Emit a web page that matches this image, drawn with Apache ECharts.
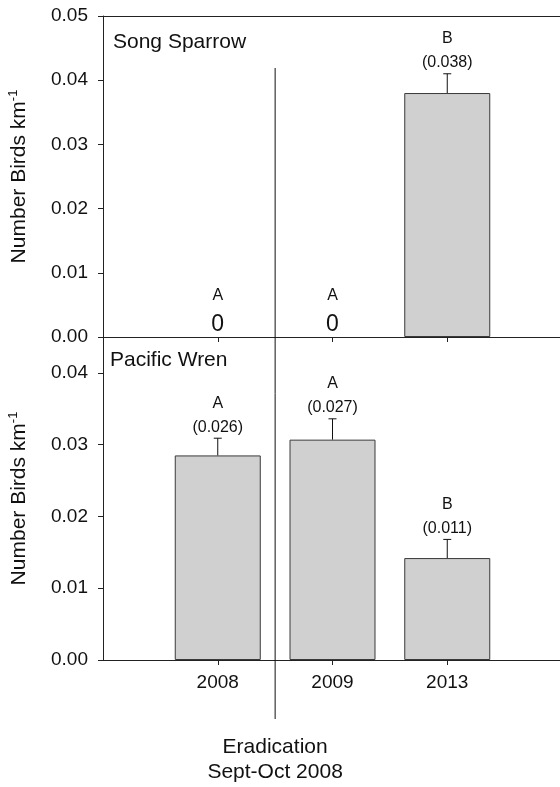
<!DOCTYPE html>
<html>
<head>
<meta charset="utf-8">
<script src="https://cdn.jsdelivr.net/npm/echarts@6/dist/echarts.min.js"></script>
<style>
  html, body { margin: 0; background: #fff; }
  #chart { width: 560px; height: 787px; }
</style>
</head>
<body>
<div id="chart"></div>
<script>
// data
const years = ["2008", "2009", "2013"];
const sparrowMeans = [0, 0, 0.038];
const sparrowUpper = [0, 0, 0.041];
const sparrowLetters = ["A", "A", "B"];
const sparrowLabels = ["0", "0", "(0.038)"];
const wrenMeans = [0.0285, 0.0307, 0.0142];
const wrenUpper = [0.0309, 0.0336, 0.0168];
const wrenLetters = ["A", "A", "B"];
const wrenLabels = ["(0.026)", "(0.027)", "(0.011)"];
const sparrowYMax = 0.05;
const wrenYMax = 0.045;

const FONT = "Liberation Sans, Arial, Helvetica, sans-serif";
const left = 103, width = 459;
const band = width / 4;

// padded categories so the axis runs a half band past the years
const cats = ["", ...years, ""];
const pad = (arr) => ["-", ...arr.map((v) => (v === 0 ? "-" : v)), "-"];

const chart = echarts.init(document.getElementById("chart"));

function errRender(means, upper, letters, labels) {
  return function (params, api) {
    const i = params.dataIndex;
    const idx = i + 1;
    const base = api.coord([idx, means[i]]);
    const top = api.coord([idx, upper[i]]);
    const kids = [];
    const ink = "#111";
    if (means[i] === 0) {
      kids.push({
        type: "text",
        style: { text: labels[i], x: base[0], y: base[1] - 12, align: "center", verticalAlign: "middle", font: "23px " + FONT, fill: ink },
      });
      kids.push({
        type: "text",
        style: { text: letters[i], x: base[0], y: base[1] - 41, align: "center", verticalAlign: "middle", font: "16px " + FONT, fill: ink },
      });
    } else {
      kids.push({ type: "line", shape: { x1: top[0], y1: base[1], x2: top[0], y2: top[1] }, style: { stroke: ink, lineWidth: 1 } });
      kids.push({ type: "line", shape: { x1: top[0] - 4, y1: top[1], x2: top[0] + 4, y2: top[1] }, style: { stroke: ink, lineWidth: 1 } });
      kids.push({
        type: "text",
        style: { text: labels[i], x: top[0], y: top[1] - 11, align: "center", verticalAlign: "middle", font: "16px " + FONT, fill: ink },
      });
      kids.push({
        type: "text",
        style: { text: letters[i], x: top[0], y: top[1] - 35, align: "center", verticalAlign: "middle", font: "16px " + FONT, fill: ink },
      });
    }
    return { type: "group", children: kids };
  };
}

const axisLine = { show: true, lineStyle: { color: "#222", width: 1 } };
const yName = "{a|Number Birds km}{s|-1}";
const yNameStyle = {
  rich: {
    a: { fontSize: 21, fontFamily: FONT, color: "#111", lineHeight: 24 },
    s: { fontSize: 13, fontFamily: FONT, color: "#111", verticalAlign: "top", lineHeight: 24 },
  },
};

const xBase = {
  type: "category",
  data: cats,
  boundaryGap: false,
  axisLine: axisLine,
  axisTick: { show: true, length: 5, interval: (i, v) => v !== "", lineStyle: { color: "#222" } },
  splitLine: { show: false },
};

chart.setOption({
  animation: false,
  grid: [
    { left: left, width: width, top: 16, height: 321, outerBoundsMode: "none" },
    { left: left, width: width, top: 337, height: 323, outerBoundsMode: "none" },
  ],
  xAxis: [
    Object.assign({}, xBase, { gridIndex: 0, axisLabel: { show: false } }),
    Object.assign({}, xBase, {
      gridIndex: 1,
      axisLabel: { show: true, margin: 13, fontSize: 19, fontFamily: FONT, color: "#111" },
    }),
    { type: "category", data: cats, boundaryGap: false, gridIndex: 0, position: "top", axisLine: axisLine, axisTick: { show: false }, axisLabel: { show: false } },
  ],
  yAxis: [
    {
      type: "value", gridIndex: 0, min: 0, max: sparrowYMax, interval: 0.01,
      axisLine: axisLine, axisTick: { show: true, length: 5, lineStyle: { color: "#222" } }, splitLine: { show: false },
      axisLabel: { margin: 15, fontSize: 19, fontFamily: FONT, color: "#111", formatter: (v) => v.toFixed(2) },
      name: yName, nameLocation: "middle", nameGap: 72, nameTextStyle: yNameStyle,
    },
    {
      type: "value", gridIndex: 1, min: 0, max: wrenYMax, interval: 0.01,
      axisLine: axisLine, axisTick: { show: true, length: 5, lineStyle: { color: "#222" } }, splitLine: { show: false },
      axisLabel: { margin: 15, fontSize: 19, fontFamily: FONT, color: "#111", showMaxLabel: false, formatter: (v) => v.toFixed(2) },
      name: yName, nameLocation: "middle", nameGap: 72, nameTextStyle: yNameStyle,
    },
  ],
  series: [
    {
      type: "bar", xAxisIndex: 0, yAxisIndex: 0, data: pad(sparrowMeans), barWidth: 86,
      itemStyle: { color: "#d0d0d0", borderColor: "#3a3a3a", borderWidth: 1 },
    },
    {
      type: "bar", xAxisIndex: 1, yAxisIndex: 1, data: pad(wrenMeans), barWidth: 86,
      itemStyle: { color: "#d0d0d0", borderColor: "#3a3a3a", borderWidth: 1 },
    },
    {
      type: "custom", xAxisIndex: 0, yAxisIndex: 0, z: 5,
      data: years.map((y, i) => [i + 1, sparrowUpper[i]]),
      renderItem: errRender(sparrowMeans, sparrowUpper, sparrowLetters, sparrowLabels),
    },
    {
      type: "custom", xAxisIndex: 1, yAxisIndex: 1, z: 5,
      data: years.map((y, i) => [i + 1, wrenUpper[i]]),
      renderItem: errRender(wrenMeans, wrenUpper, wrenLetters, wrenLabels),
    },
  ],
  graphic: [
    { type: "line", shape: { x1: left + 1.5 * band, y1: 68, x2: left + 1.5 * band, y2: 719 }, style: { stroke: "#111", lineWidth: 1 }, z: 10 },
    { type: "text", left: 113, top: 32, style: { text: "Song Sparrow", font: "21px " + FONT, fill: "#111" } },
    { type: "text", left: 110, top: 350, style: { text: "Pacific Wren", font: "21px " + FONT, fill: "#111" } },
    {
      type: "text", x: left + 1.5 * band, y: 760,
      style: { text: "Eradication\nSept-Oct 2008", font: "21px " + FONT, fill: "#111", align: "center", verticalAlign: "middle", lineHeight: 25 },
    },
  ],
});
</script>
</body>
</html>
